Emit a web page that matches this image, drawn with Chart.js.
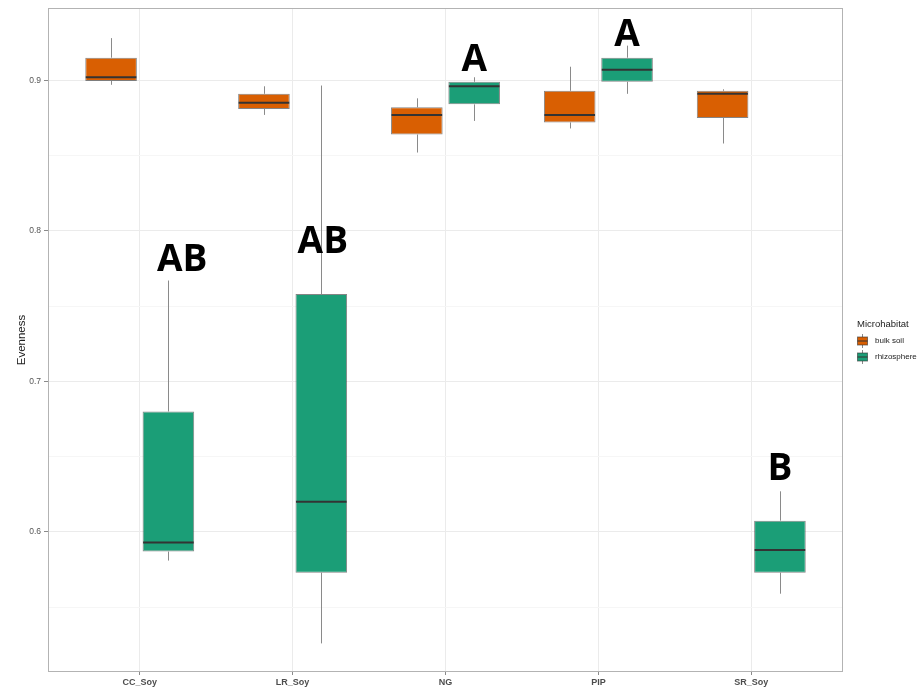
<!DOCTYPE html>
<html>
<head>
<meta charset="utf-8">
<script src="https://cdn.jsdelivr.net/npm/chart.js@4.4.1/dist/chart.umd.min.js"></script>
<style>
  html, body { margin: 0; padding: 0; background: #fff; }
</style>
</head>
<body>
<canvas id="box-chart" width="920" height="693"></canvas>
<script>
var categories = ['CC_Soy', 'LR_Soy', 'NG', 'PIP', 'SR_Soy'];
var groups = ['bulk soil', 'rhizosphere'];
var groupColors = ['#D95F02', '#1B9E77'];

// five number summaries
var bulkMin = [0.897, 0.877, 0.852, 0.868, 0.858];
var bulkQ1  = [0.8995, 0.881, 0.864, 0.872, 0.875];
var bulkMed = [0.902, 0.885, 0.877, 0.877, 0.891];
var bulkQ3  = [0.915, 0.891, 0.882, 0.893, 0.893];
var bulkMax = [0.928, 0.896, 0.888, 0.909, 0.894];

var rhizoMin = [0.581, 0.526, 0.873, 0.891, 0.559];
var rhizoQ1  = [0.587, 0.573, 0.884, 0.899, 0.573];
var rhizoMed = [0.593, 0.620, 0.896, 0.907, 0.588];
var rhizoQ3  = [0.680, 0.758, 0.899, 0.915, 0.6075];
var rhizoMax = [0.767, 0.8965, 0.902, 0.923, 0.627];

// significance letters over the rhizosphere boxes
var letters  = ['AB', 'AB', 'A', 'A', 'B'];
var letterAt = [0.773, 0.785, 0.906, 0.923, 0.6345];
var letterShift = [0.09, 0.01, 0, 0, 0];

var yTicks = [0.55, 0.6, 0.65, 0.7, 0.75, 0.8, 0.85, 0.9];

function boxData(mn, q1, med, q3, mx) {
	return categories.map(function(c, i) {
		return { x: i, y: [q1[i], q3[i]], min: mn[i], median: med[i], max: mx[i] };
	});
}
function isMajor(v) {
	return Math.abs(v * 10 - Math.round(v * 10)) < 1e-6;
}
function zeroPad(s) {
	s.paddingLeft = 0; s.paddingRight = 0; s.paddingTop = 0; s.paddingBottom = 0;
}

Chart.defaults.font.family = '"Liberation Sans", Arial, sans-serif';

var boxExtras = {
	id: 'boxExtras',
	afterDatasetsDraw: function(chart) {
		var ctx = chart.ctx, ys = chart.scales.y, xs = chart.scales.x;
		var area = chart.chartArea;
		var unit = xs.getPixelForValue(1) - xs.getPixelForValue(0);

		chart.data.datasets.forEach(function(ds, i) {
			var meta = chart.getDatasetMeta(i);
			meta.data.forEach(function(bar, j) {
				var d = ds.data[j];
				var half = bar.width / 2;
				var cx = Math.round(bar.x) + 0.5;
				ctx.save();
				// whiskers
				ctx.strokeStyle = '#8a8a8a';
				ctx.lineWidth = 1;
				ctx.beginPath();
				ctx.moveTo(cx, ys.getPixelForValue(d.y[1]));
				ctx.lineTo(cx, ys.getPixelForValue(d.max));
				ctx.moveTo(cx, ys.getPixelForValue(d.y[0]));
				ctx.lineTo(cx, ys.getPixelForValue(d.min));
				ctx.stroke();
				// median
				var ym = ys.getPixelForValue(d.median);
				ctx.strokeStyle = '#333333';
				ctx.lineWidth = 2;
				ctx.beginPath();
				ctx.moveTo(bar.x - half + 0.5, ym);
				ctx.lineTo(bar.x + half - 0.5, ym);
				ctx.stroke();
				ctx.restore();
			});
		});

		// letters
		var rmeta = chart.getDatasetMeta(1);
		ctx.save();
		ctx.fillStyle = '#000';
		ctx.font = 'bold 37px "Open Sans", sans-serif';
		ctx.textAlign = 'center';
		ctx.textBaseline = 'alphabetic';
		rmeta.data.forEach(function(bar, j) {
			ctx.fillText(letters[j], bar.x + letterShift[j] * unit, ys.getPixelForValue(letterAt[j]));
		});
		ctx.restore();

		// panel border
		ctx.save();
		ctx.strokeStyle = '#b3b3b3';
		ctx.lineWidth = 1;
		ctx.strokeRect(area.left + 0.5, area.top + 0.5, area.right - area.left - 1, area.bottom - area.top - 1);
		ctx.restore();

		// legend
		ctx.save();
		ctx.fillStyle = '#222';
		ctx.textBaseline = 'middle';
		ctx.textAlign = 'left';
		ctx.font = '9.5px "Liberation Sans", Arial, sans-serif';
		ctx.fillText('Microhabitat', 857, 324);
		ctx.font = '8px "Liberation Sans", Arial, sans-serif';
		groups.forEach(function(g, k) {
			var cy = 341 + 16 * k;
			ctx.strokeStyle = '#8a8a8a';
			ctx.lineWidth = 1;
			ctx.beginPath();
			ctx.moveTo(862.5, cy - 7);
			ctx.lineTo(862.5, cy + 7);
			ctx.stroke();
			ctx.fillStyle = groupColors[k];
			ctx.fillRect(857.5, cy - 4, 10, 8);
			ctx.strokeStyle = 'rgba(51,51,51,0.6)';
			ctx.strokeRect(857.5, cy - 4, 10, 8);
			ctx.strokeStyle = '#333';
			ctx.beginPath();
			ctx.moveTo(857.5, cy);
			ctx.lineTo(867.5, cy);
			ctx.stroke();
			ctx.fillStyle = '#222';
			ctx.fillText(g, 875, cy);
		});
		ctx.restore();
	}
};

var chart = new Chart(document.getElementById('box-chart'), {
	type: 'bar',
	data: {
		datasets: [
			{
				label: groups[0],
				data: boxData(bulkMin, bulkQ1, bulkMed, bulkQ3, bulkMax),
				backgroundColor: groupColors[0],
				borderColor: 'rgba(51,51,51,0.6)',
				borderWidth: 1,
				borderSkipped: false,
				categoryPercentage: 0.75,
				barPercentage: 0.9
			},
			{
				label: groups[1],
				data: boxData(rhizoMin, rhizoQ1, rhizoMed, rhizoQ3, rhizoMax),
				backgroundColor: groupColors[1],
				borderColor: 'rgba(51,51,51,0.6)',
				borderWidth: 1,
				borderSkipped: false,
				categoryPercentage: 0.75,
				barPercentage: 0.9
			}
		]
	},
	options: {
		responsive: false,
		animation: false,
		layout: { padding: { left: 0, top: 8, right: 77, bottom: 0 } },
		plugins: {
			legend: { display: false },
			tooltip: { enabled: false }
		},
		scales: {
			x: {
				type: 'linear',
				min: -0.6,
				max: 4.6,
				offset: false,
				afterBuildTicks: function(s) {
					s.ticks = categories.map(function(c, i) { return { value: i }; });
				},
				afterFit: function(s) { s.height = 21; zeroPad(s); },
				ticks: {
					autoSkip: false,
					maxRotation: 0,
					padding: 2,
					color: '#4d4d4d',
					font: { size: 9, weight: 'bold' },
					callback: function(v) { return categories[v]; }
				},
				grid: { offset: false, color: '#ebebeb', tickColor: '#8a8a8a', tickLength: 3 },
				border: { display: false }
			},
			y: {
				min: 0.507,
				max: 0.948,
				afterBuildTicks: function(s) {
					s.ticks = yTicks.map(function(v) { return { value: v }; });
				},
				afterFit: function(s) { s.width = 48; zeroPad(s); },
				ticks: {
					padding: 3,
					color: '#555',
					font: { size: 8.5 },
					callback: function(v) { return isMajor(v) ? v.toFixed(1) : ''; }
				},
				grid: {
					color: function(c) { return isMajor(c.tick.value) ? '#ebebeb' : '#f6f6f6'; },
					tickColor: function(c) { return isMajor(c.tick.value) ? '#8a8a8a' : 'rgba(0,0,0,0)'; },
					tickLength: 4
				},
				border: { display: false },
				title: {
					display: true,
					text: 'Evenness',
					color: '#222',
					font: { size: 11.5 },
					padding: { top: 15, bottom: 0 }
				}
			}
		}
	},
	plugins: [boxExtras]
});
</script>
</body>
</html>
